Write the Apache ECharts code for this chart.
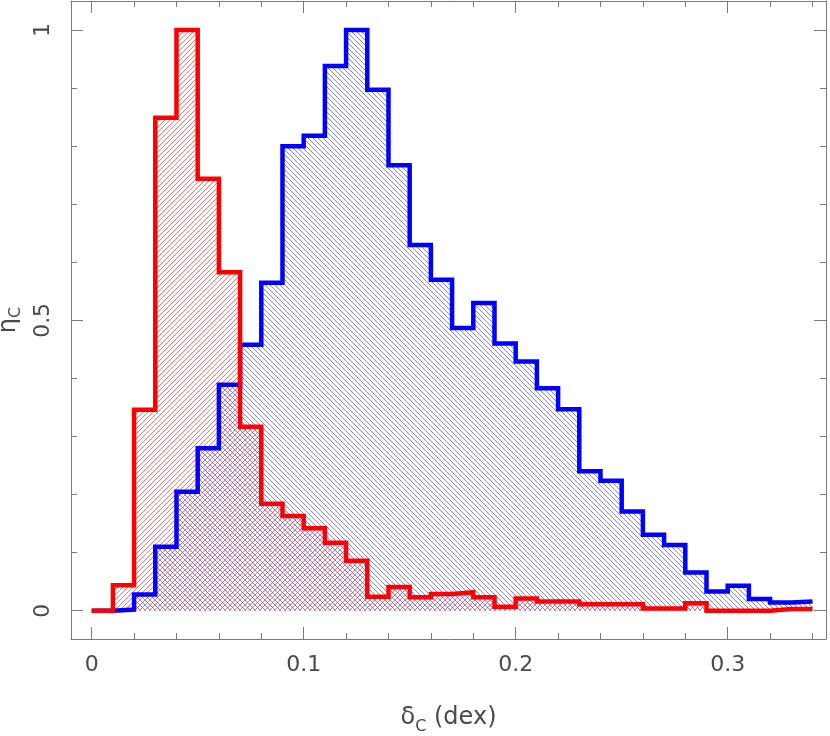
<!DOCTYPE html>
<html><head><meta charset="utf-8">
<script src="https://cdn.jsdelivr.net/npm/echarts@6/dist/echarts.min.js"></script>
<style>html,body{margin:0;padding:0;background:#fff}#c{width:830px;height:736px}</style>
</head><body><div id="c"></div>
<script>
// ---- data ----
const binEdges = [0,0.01,0.02,0.03,0.04,0.05,0.06,0.07,0.08,0.09,0.10,0.11,0.12,0.13,0.14,0.15,0.16,0.17,0.18,0.19,0.20,0.21,0.22,0.23,0.24,0.25,0.26,0.27,0.28,0.29,0.30,0.31,0.32,0.33,0.34];
const redValues = [0,0.044,0.346,0.849,1.0,0.744,0.583,0.317,0.184,0.163,0.142,0.117,0.086,0.024,0.041,0.023,0.029,0.032,0.023,0.007,0.021,0.016,0.016,0.011,0.011,0.011,0.004,0.004,0.013,0,0,0,0.003,0.003];
const blueValues = [0,0.002,0.028,0.11,0.205,0.28,0.389,0.458,0.565,0.80,0.818,0.938,1.0,0.897,0.767,0.63,0.57,0.487,0.53,0.46,0.429,0.383,0.347,0.24,0.224,0.171,0.131,0.113,0.066,0.033,0.043,0.02,0.014,0.016];
const xMajorTicks = [0,0.1,0.2,0.3];
const xMinorTicks = [0.02,0.04,0.06,0.08,0.12,0.14,0.16,0.18,0.22,0.24,0.26,0.28,0.32,0.34];
const yMajorTicks = [0,0.5,1];
const yMinorTicks = [0.1,0.2,0.3,0.4,0.6,0.7,0.8,0.9];

// ---- helpers ----
function stepData(vals){
  const d = vals.map((v,i)=>[binEdges[i], v]);
  d.push([binEdges[vals.length], vals[vals.length-1]]);
  return d;
}
function hatch(size, color, dir){
  const c = document.createElement('canvas');
  c.width = size; c.height = size;
  const g = c.getContext('2d');
  g.strokeStyle = color; g.lineWidth = 1;
  g.beginPath();
  for (let k=-1;k<=1;k++){
    if (dir === '/') { g.moveTo(k*size, size); g.lineTo(k*size+size, 0); }
    else { g.moveTo(k*size, 0); g.lineTo(k*size+size, size); }
  }
  g.stroke();
  return c;
}
const AX = '#7a7a7a', TXT = '#4a4a4a', FONT = 'DejaVu Sans';
const XMIN = -0.00976, XMAX = 0.34637, YMIN = -0.0487, YMAX = 1.05;

function xAxis(pos, ticks, len, line, label){
  return {
    type:'value', position:pos, min:XMIN, max:XMAX, gridIndex:0,
    axisLine:{show:line, onZero:false, lineStyle:{color:AX, width:1}},
    axisTick:{show:true, inside:true, length:len, customValues:ticks, lineStyle:{color:AX, width:1}},
    axisLabel:{show:label, customValues:ticks, margin:15, color:TXT, fontFamily:FONT, fontSize:22,
      formatter:v=>String(+v.toFixed(2))},
    splitLine:{show:false}
  };
}
function yAxis(pos, ticks, len, line, label){
  return {
    type:'value', position:pos, min:YMIN, max:YMAX, gridIndex:0,
    axisLine:{show:line, onZero:false, lineStyle:{color:AX, width:1}},
    axisTick:{show:true, inside:true, length:len, customValues:ticks, lineStyle:{color:AX, width:1}},
    axisLabel:{show:label, customValues:ticks, rotate:90, margin:17, color:TXT, fontFamily:FONT, fontSize:22,
      formatter:v=>String(+v.toFixed(2))},
    splitLine:{show:false}
  };
}

const xa0 = xAxis('bottom', xMajorTicks, 12, true, true);
xa0.name = '{a|δ}{s|C}{a| (dex)}';
xa0.nameLocation = 'middle';
xa0.nameGap = 62;
xa0.nameTextStyle = {color:TXT, fontFamily:FONT, fontSize:24,
  rich:{a:{fontSize:24, fontFamily:FONT, color:TXT, lineHeight:34},
        s:{fontSize:16, fontFamily:FONT, color:TXT, lineHeight:16, verticalAlign:'bottom'}}};
const ya0 = yAxis('left', yMajorTicks, 12, true, true);
ya0.name = '{a|η}{s|C}';
ya0.nameLocation = 'middle';
ya0.nameRotate = 90;
ya0.nameGap = 35;
ya0.nameTextStyle = {color:TXT, fontFamily:FONT, fontSize:24,
  rich:{a:{fontSize:24, fontFamily:FONT, color:TXT, lineHeight:30},
        s:{fontSize:16, fontFamily:FONT, color:TXT, lineHeight:16, verticalAlign:'bottom'}}};

const chart = echarts.init(document.getElementById('c'), null, {renderer:'canvas'});
chart.setOption({
  animation:false,
  backgroundColor:'#fff',
  grid:{left:71, top:1, width:755, height:638, containLabel:false, outerBoundsMode:'none'},
  xAxis:[
    xa0,
    xAxis('bottom', xMinorTicks, 6, false, false),
    xAxis('top', xMajorTicks, 12, true, false),
    xAxis('top', xMinorTicks, 6, false, false)
  ],
  yAxis:[
    ya0,
    yAxis('left', yMinorTicks, 6, false, false),
    yAxis('right', yMajorTicks, 12, true, false),
    yAxis('right', yMinorTicks, 6, false, false)
  ],
  series:[
    {type:'line', step:'end', data:stepData(blueValues), symbol:'none', z:1,
     lineStyle:{width:0, opacity:0},
     areaStyle:{opacity:1, color:{image:hatch(5,'rgba(0,0,255,0.5)','\\'), repeat:'repeat'}}},
    {type:'line', step:'end', data:stepData(redValues), symbol:'none', z:1,
     lineStyle:{width:0, opacity:0},
     areaStyle:{opacity:1, color:{image:hatch(5,'rgba(255,0,0,0.55)','/'), repeat:'repeat'}}},
    {type:'line', step:'end', data:stepData(blueValues), symbol:'none', z:3,
     lineStyle:{width:4.5, color:'#0000ff', join:'miter'}},
    {type:'line', step:'end', data:stepData(redValues), symbol:'none', z:4,
     lineStyle:{width:4.5, color:'#ff0000', join:'miter'}}
  ]
});
</script>
</body></html>
